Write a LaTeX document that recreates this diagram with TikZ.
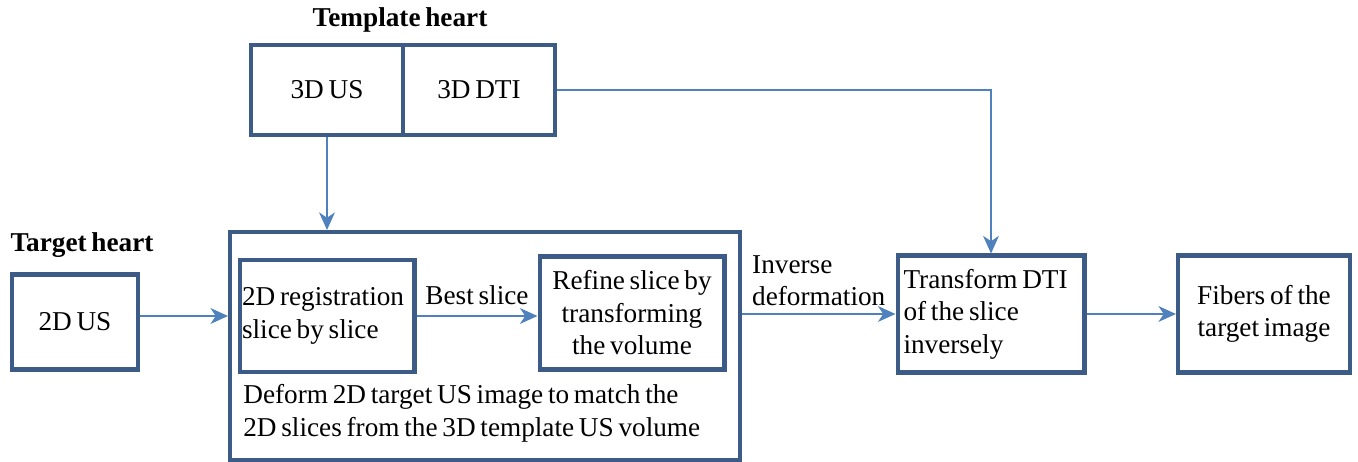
\documentclass[tikz,border=0pt]{standalone}
\usepackage{fontspec}
\setmainfont{Liberation Serif}[WordSpace=0.7]
\usetikzlibrary{positioning, arrows.meta, calc}
\definecolor{boxblue}{RGB}{60,92,135}
\definecolor{arrowblue}{RGB}{79,129,189}

\begin{document}
\begin{tikzpicture}[x=0.02cm, y=-0.02cm,
	every node/.style={font=\fontsize{15.5}{18.5}\selectfont},
	block/.style={draw=boxblue, line width=2.3pt, inner sep=2pt},
	flow/.style={draw=arrowblue, line width=0.9pt, -{Stealth[length=10pt, width=9pt, inset=3pt]}},
	head/.style={font=\fontsize{15.5}{18}\selectfont\bfseries}]
	\useasboundingbox (0,0) rectangle (1358,462);
	%% template heart
	\node[head] (templ) at (400,20) {Template heart};
	\node[block, minimum width=3.04cm, minimum height=1.8cm] (tus) at (327,90) {3D US};
	\node[block, minimum width=3.04cm, minimum height=1.8cm] (tdti) at (479,90) {3D DTI};
	%% target heart
	\node[head] (targ) at (82,245) {Target heart};
	\node[block, minimum width=2.52cm, minimum height=1.9cm] (us2d) at (75,322) {2D US};
	%% registration
	\node[block, minimum width=10.2cm, minimum height=4.56cm] (big) at (485,346) {};
	\node[block, minimum width=3.5cm, minimum height=2.24cm, align=flush left, text width=3.4cm, inner sep=1pt] (reg) at (327,316) {2D registration\\slice by slice};
	\node[block, minimum width=3.7cm, minimum height=2.26cm, align=center] (refine) at (632,313) {Refine slice by\\transforming\\the volume};
	\node[anchor=north west, align=left, inner sep=0pt] (deform) at (243,384) {Deform 2D target US image to match the\\2D slices from the 3D template US volume};
	%% output
	\node[block, minimum width=3.74cm, minimum height=2.34cm, align=flush left, text width=3.5cm] (transf) at (991,314) {Transform DTI\\of the slice\\inversely};
	\node[block, minimum width=3.44cm, minimum height=2.34cm, align=center] (fibers) at (1264,314) {Fibers of the\\target image};

	\draw[flow] (tus.south) -- (tus.south |- big.north);
	\draw[flow] (tdti.east) -| (transf.north);
	\draw[flow] (us2d.east |- reg.east) -- (reg.east -| big.west);
	\draw[flow] (reg.east) -- node[above, inner sep=6pt] {Best slice} (reg.east -| refine.west);
	\draw[flow] (big.east |- transf.west) -- node[above, align=left, inner sep=4pt] {Inverse\\deformation} (transf.west);
	\draw[flow] (transf.east) -- (fibers.west);
\end{tikzpicture}
\end{document}
